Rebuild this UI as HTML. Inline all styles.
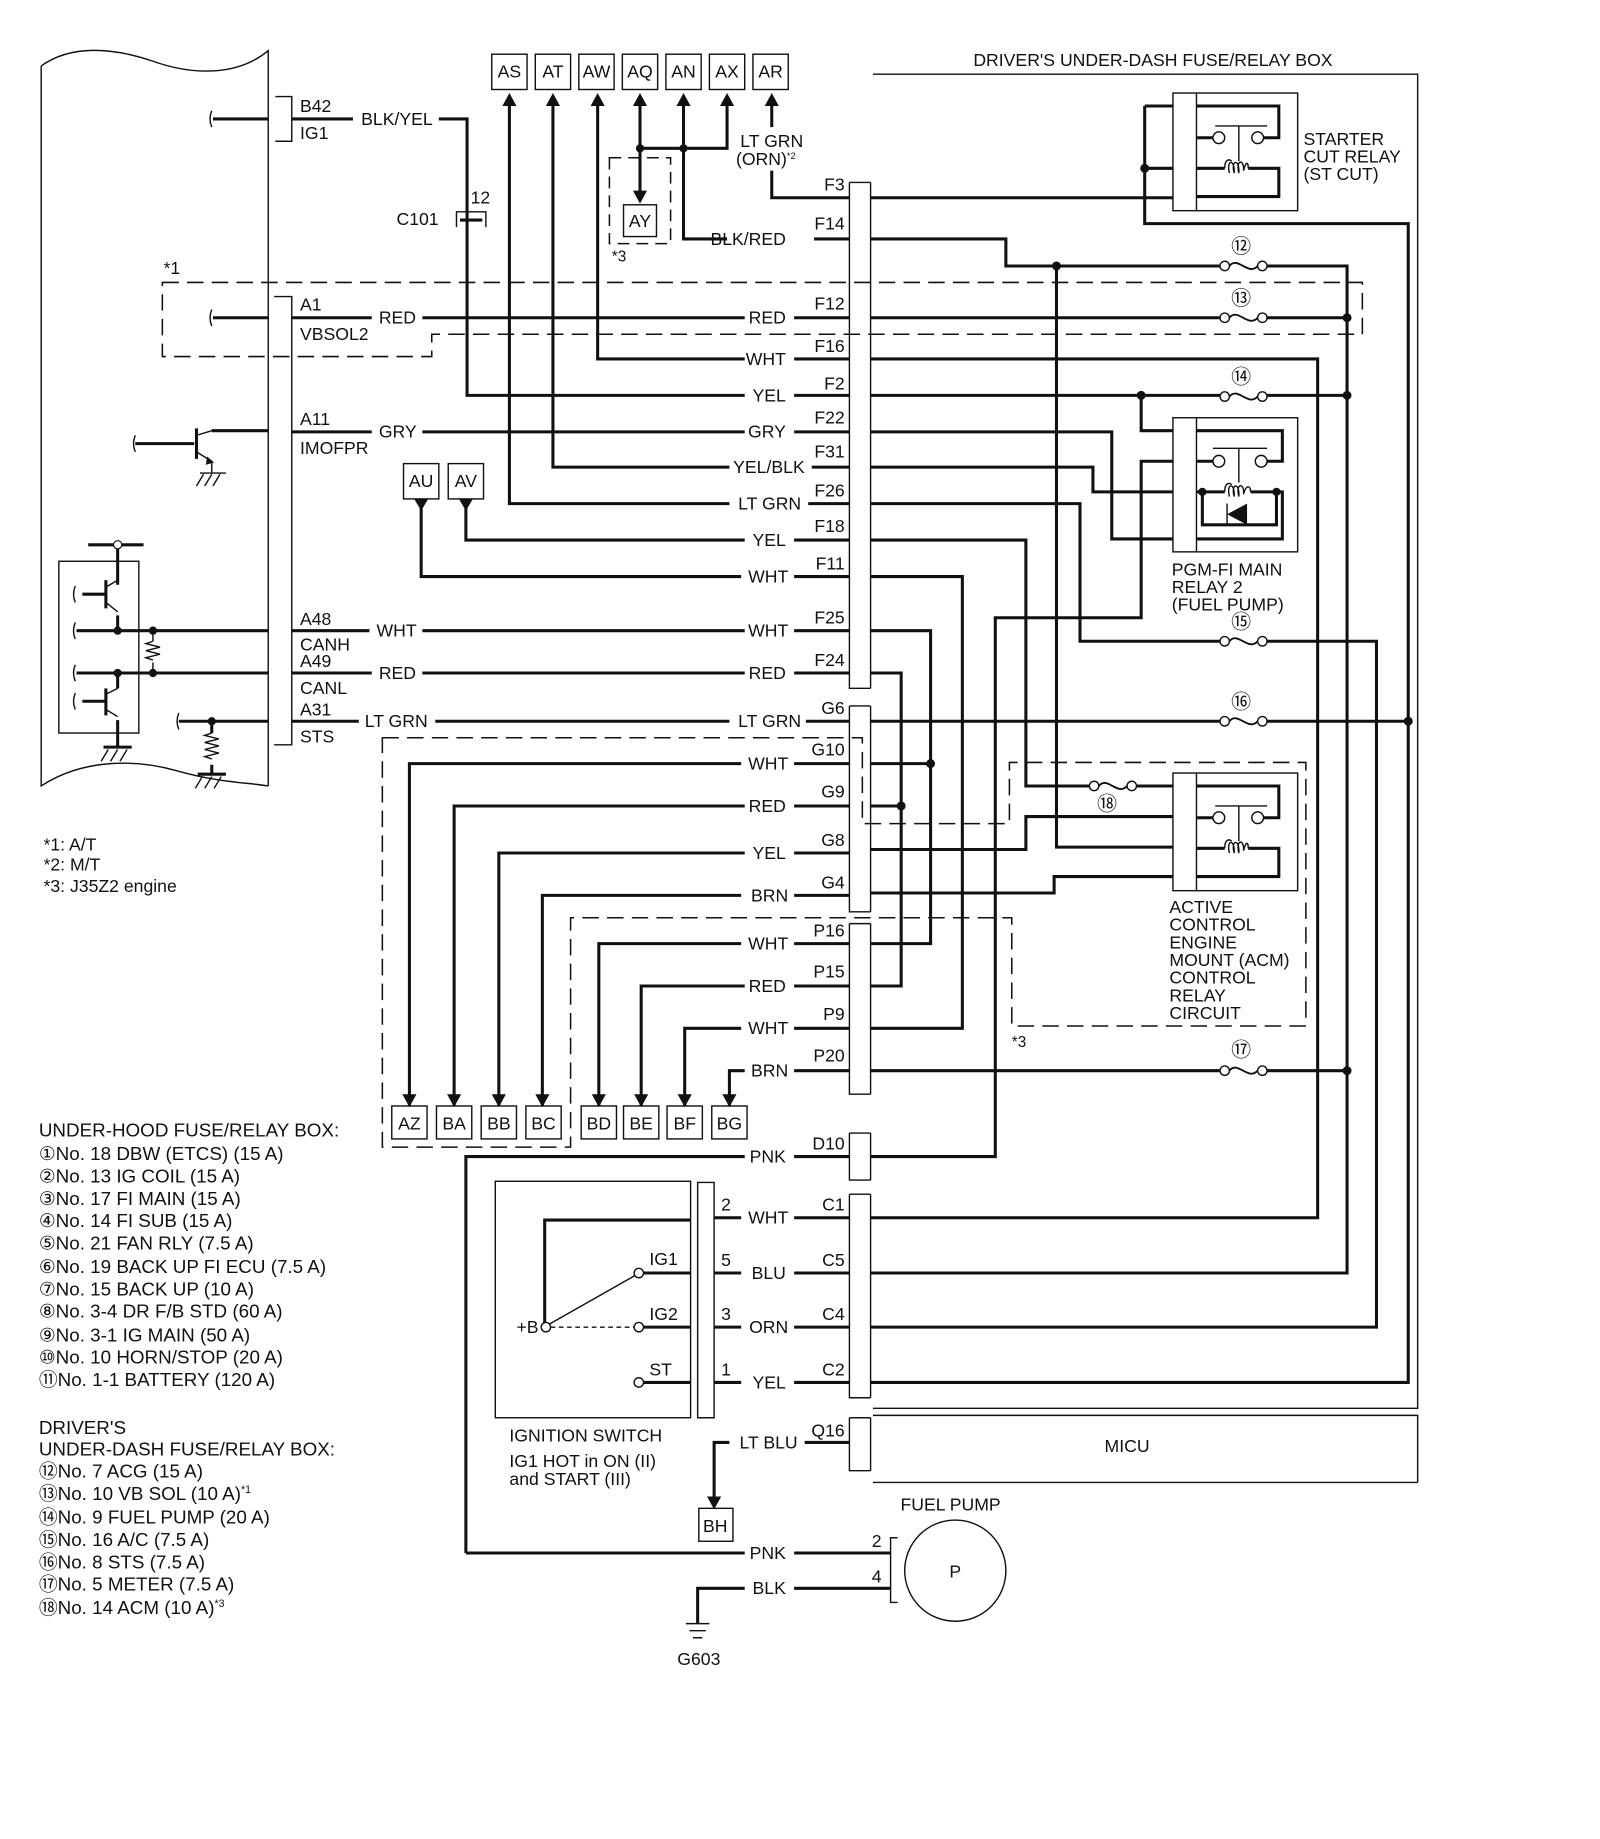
<!DOCTYPE html>
<html><head><meta charset="utf-8"><style>
html,body{margin:0;padding:0;background:#fff;}
svg{display:block;}
text{font-family:"Liberation Sans","DejaVu Sans","Noto Sans CJK JP",sans-serif;font-size:15px;fill:#111;}
.w{stroke:#111;stroke-width:2.6;fill:none;}
.t{stroke:#111;stroke-width:1.2;fill:none;}
.d{stroke:#111;stroke-width:1.3;fill:none;stroke-dasharray:14,7;}
.f{fill:#111;}
</style></head><body>
<svg width="1600" height="1839" viewBox="0 0 1360 1563" xmlns="http://www.w3.org/2000/svg">
<defs>
<g id="fuse"><circle cx="4" cy="0" r="4" class="t" fill="#fff"/><circle cx="36" cy="0" r="4" class="t" fill="#fff"/><path d="M8,0 C15,-9 24,9 32,0" class="t" style="stroke-width:1.6"/></g>
<g id="relay">
<rect x="0" y="0" width="106" height="100" class="t"/><line x1="20" y1="0" x2="20" y2="100" class="t"/>
<path d="M20,11 H90 V38 H77 M20,38 H34 M20,64 H44 M64,64 H90 V88 H20" class="w"/>
<circle cx="39" cy="38" r="5" class="t"/><circle cx="72" cy="38" r="5" class="t"/>
<path d="M36,28 H80 M56,28 V58" class="t"/>
<path d="M44,64 C44,56 48,56 50,58 M48,68 C45,56 53,56 52,68 M52,68 C49,56 57,56 56,68 M56,68 C53,56 61,56 60,66 C62,58 64,58 64,64" class="t"/>
</g>
</defs>

<!-- ECM outline -->
<path d="M35,56 C60,38 95,40 130,52 C170,66 205,62 228,43 V668" class="t"/>
<path d="M35,56 V668 C70,645 115,645 150,655 C185,665 210,665 228,668" class="t"/>
<path d="M234,82 H248 V120 H234" class="t"/>
<path d="M233,252 H248 V633 H233" class="t"/>
<text x="255" y="95">B42</text><text x="255" y="118">IG1</text>
<text x="255" y="264">A1</text><text x="255" y="289">VBSOL2</text>
<text x="255" y="361">A11</text><text x="255" y="386">IMOFPR</text>
<text x="255" y="531">A48</text><text x="255" y="553">CANH</text>
<text x="255" y="567">A49</text><text x="255" y="590">CANL</text>
<text x="255" y="608">A31</text><text x="255" y="631">STS</text>
<path d="M181,101 H228 M181,270 H228" class="w"/>
<path d="M180,94 q-3,7 0,14 M180,263 q-3,7 0,14 M115,370 q-3,7 0,14" class="t"/>
<path d="M115,377 H165 M167,364 V390 M180,366 H228" class="w"/>
<path d="M167,370 L180,366 M167,384 L180,392 V402 M170,402 H192 M173,403 l-6,10 M180,403 l-6,10 M187,403 l-6,10" class="t"/>
<path d="M176,388 l6,5 l-7,2 z" class="f"/>
<rect x="50" y="477" width="68" height="146" class="t"/>
<path d="M75,463 H122" class="w"/><circle cx="100" cy="463" r="3.5" fill="#fff" stroke="#111" stroke-width="1"/>
<path d="M100,466 V497 M70,505 H90 M90,493 V517 M100,523 V536 M65,536 H228 M65,572 H228 M100,572 V585 M70,596 H90 M90,585 V608 M100,612 V635 M88,635 H112 M152,613 H228 M180,613 V623 M180,650 V658 M168,658 H192" class="w"/>
<path d="M90,499 L100,493 M90,512 L100,520 M90,590 L100,585 M90,603 L100,609 M130,536 V545 M130,563 V572 M130,545 l-6,2 l12,3 l-12,3 l12,3 l-12,3 l6,2 M180,623 l-6,2 l12,3 l-12,3 l12,3 l-12,3 l12,3 l-12,3 l6,2" class="t"/>
<path d="M92,637 l-6,10 M100,637 l-6,10 M108,637 l-6,10 M172,660 l-6,10 M180,660 l-6,10 M188,660 l-6,10 M64,498 q-3,7 0,14 M64,529 q-3,7 0,14 M64,565 q-3,7 0,14 M64,589 q-3,7 0,14 M152,606 q-3,7 0,14" class="t"/>
<circle cx="100" cy="536" r="3.5" class="f"/><circle cx="130" cy="536" r="3.5" class="f"/><circle cx="100" cy="572" r="3.5" class="f"/><circle cx="130" cy="572" r="3.5" class="f"/><circle cx="180" cy="613" r="3.5" class="f"/>

<text x="37" y="723">*1:  A/T</text><text x="37" y="740">*2:  M/T</text><text x="37" y="758">*3:  J35Z2 engine</text>
<text x="33" y="966" style="font-size:16px">UNDER-HOOD FUSE/RELAY BOX:</text>
<text x="33" y="986" style="font-size:16px">①No. 18 DBW (ETCS) (15 A)</text>
<text x="33" y="1005" style="font-size:16px">②No. 13 IG COIL (15 A)</text>
<text x="33" y="1024" style="font-size:16px">③No. 17 FI MAIN (15 A)</text>
<text x="33" y="1043" style="font-size:16px">④No. 14 FI SUB (15 A)</text>
<text x="33" y="1062" style="font-size:16px">⑤No. 21 FAN RLY (7.5 A)</text>
<text x="33" y="1082" style="font-size:16px">⑥No. 19 BACK UP FI ECU (7.5 A)</text>
<text x="33" y="1101" style="font-size:16px">⑦No. 15 BACK UP (10 A)</text>
<text x="33" y="1120" style="font-size:16px">⑧No. 3-4 DR F/B STD (60 A)</text>
<text x="33" y="1140" style="font-size:16px">⑨No. 3-1 IG MAIN (50 A)</text>
<text x="33" y="1159" style="font-size:16px">⑩No. 10 HORN/STOP (20 A)</text>
<text x="33" y="1178" style="font-size:16px">⑪No. 1-1 BATTERY (120 A)</text>
<text x="33" y="1219" style="font-size:16px">DRIVER'S</text>
<text x="33" y="1237" style="font-size:16px">UNDER-DASH FUSE/RELAY BOX:</text>
<text x="33" y="1256" style="font-size:16px">⑫No. 7 ACG (15 A)</text>
<text x="33" y="1275" style="font-size:16px">⑬No. 10 VB SOL (10 A)<tspan dy="-6" style="font-size:9px">*1</tspan></text>
<text x="33" y="1295" style="font-size:16px">⑭No. 9 FUEL PUMP (20 A)</text>
<text x="33" y="1314" style="font-size:16px">⑮No. 16 A/C (7.5 A)</text>
<text x="33" y="1333" style="font-size:16px">⑯No. 8 STS (7.5 A)</text>
<text x="33" y="1352" style="font-size:16px">⑰No. 5 METER (7.5 A)</text>
<text x="33" y="1372" style="font-size:16px">⑱No. 14 ACM (10 A)<tspan dy="-6" style="font-size:9px">*3</tspan></text>

<g class="t">
<rect x="418" y="46" width="30" height="30"/><rect x="455" y="46" width="30" height="30"/><rect x="492" y="46" width="30" height="30"/><rect x="529" y="46" width="30" height="30"/><rect x="566" y="46" width="30" height="30"/><rect x="603" y="46" width="30" height="30"/><rect x="640" y="46" width="30" height="30"/>
<rect x="530" y="174" width="28" height="27"/>
</g>
<text x="433" y="66" text-anchor="middle">AS</text><text x="470" y="66" text-anchor="middle">AT</text><text x="507" y="66" text-anchor="middle">AW</text><text x="544" y="66" text-anchor="middle">AQ</text><text x="581" y="66" text-anchor="middle">AN</text><text x="618" y="66" text-anchor="middle">AX</text><text x="655" y="66" text-anchor="middle">AR</text>
<text x="544" y="193" text-anchor="middle">AY</text>
<path d="M518,134 H570 V207 H518 Z" class="d" style="stroke-dasharray:10,6"/>
<text x="520" y="222" style="font-size:13px">*3</text>
<g class="f">
<path d="M427,90 l6,-11 l6,11z M464,90 l6,-11 l6,11z M502,90 l6,-11 l6,11z M538,90 l6,-11 l6,11z M575,90 l6,-11 l6,11z M612,90 l6,-11 l6,11z M650,90 l6,-11 l6,11z"/>
<path d="M538,162 l6,11 l6,-11z"/>
<circle cx="544" cy="126" r="3.5"/><circle cx="581" cy="126" r="3.5"/>
</g>
<path d="M433,88 V428 H620 M470,88 V397 H620 M508,88 V305 H633 M544,88 V164 M544,126 H618 V88 M581,88 V203 H618 M656,88 V108 M656,145 V168 H722" class="w"/>
<text x="656" y="125" text-anchor="middle">LT GRN</text><text x="651" y="140" text-anchor="middle">(ORN)<tspan dy="-5" style="font-size:8px">*2</tspan></text>

<path d="M248,101 H300 M373,101 H397 V336 H633" class="w"/>
<text x="307" y="106">BLK/YEL</text>
<path d="M388,193 V180 H413 V193" class="t"/><path d="M391,187 H410" class="w"/>
<text x="400" y="173">12</text><text x="337" y="191">C101</text>

<path d="M138,240 H1158 V284 H367 V303 H138 Z" class="d"/>
<text x="139" y="233">*1</text>

<path class="w" d="
M248,270 H316 M359,270 H633 M675,270 H722
M248,367 H316 M359,367 H633 M675,367 H722
M248,536 H314 M359,536 H633 M675,536 H722
M248,572 H316 M359,572 H633 M675,572 H722
M248,613 H305 M370,613 H620 M685,613 H722
M692,203 H722 M675,305 H722 M675,336 H722 M690,397 H722 M687,428 H722
M396,424 V459 H633 M675,459 H722
M358,424 V490 H630 M675,490 H722
M348,940 V649 H630 M675,649 H722
M386,940 V685 H633 M675,685 H722
M424,940 V725 H633 M675,725 H722
M461,940 V761 H630 M675,761 H722
M509,940 V802 H630 M675,802 H722
M545,940 V838 H633 M675,838 H722
M582,940 V874 H630 M675,874 H722
M620,940 V910 H633 M675,910 H722
M396,1320 V983 H633 M675,983 H722
M675,1035 H722 M675,1082 H722 M675,1128 H722 M675,1175 H722
M607,1035 H630 M607,1082 H630 M607,1128 H630 M607,1175 H630
M607,1274 V1226 H620 M684,1226 H722
M396,1320 H633 M675,1320 H757 M593,1380 V1350 H633 M675,1350 H757
"/>
<g class="f">
<path d="M352,424 l6,10 l6,-10z M390,424 l6,10 l6,-10z"/>
<path d="M342,930 l6,11 l6,-11z M380,930 l6,11 l6,-11z M418,930 l6,11 l6,-11z M455,930 l6,11 l6,-11z M503,930 l6,11 l6,-11z M539,930 l6,11 l6,-11z M576,930 l6,11 l6,-11z M614,930 l6,11 l6,-11z M601,1272 l6,11 l6,-11z"/>
</g>
<g class="t">
<rect x="343" y="394" width="30" height="30" fill="#fff"/><rect x="381" y="394" width="30" height="30" fill="#fff"/>
<rect x="333" y="940" width="30" height="28"/><rect x="371" y="940" width="30" height="28"/><rect x="409" y="940" width="30" height="28"/><rect x="447" y="940" width="30" height="28"/>
<rect x="494" y="940" width="30" height="28"/><rect x="530" y="940" width="30" height="28"/><rect x="567" y="940" width="30" height="28"/><rect x="605" y="940" width="30" height="28"/>
<rect x="594" y="1282" width="29" height="28"/>
</g>
<text x="358" y="414" text-anchor="middle">AU</text><text x="396" y="414" text-anchor="middle">AV</text>
<text x="348" y="960" text-anchor="middle">AZ</text><text x="386" y="960" text-anchor="middle">BA</text><text x="424" y="960" text-anchor="middle">BB</text><text x="462" y="960" text-anchor="middle">BC</text>
<text x="509" y="960" text-anchor="middle">BD</text><text x="545" y="960" text-anchor="middle">BE</text><text x="582" y="960" text-anchor="middle">BF</text><text x="620" y="960" text-anchor="middle">BG</text>
<text x="608" y="1302" text-anchor="middle">BH</text>

<g>
<text x="322" y="275">RED</text><text x="322" y="372">GRY</text><text x="320" y="541">WHT</text><text x="322" y="577">RED</text><text x="310" y="618">LT GRN</text>
<text x="668" y="208" text-anchor="end">BLK/RED</text>
<text x="668" y="275" text-anchor="end">RED</text><text x="668" y="310" text-anchor="end">WHT</text><text x="668" y="341" text-anchor="end">YEL</text>
<text x="668" y="372" text-anchor="end">GRY</text><text x="684" y="402" text-anchor="end">YEL/BLK</text><text x="681" y="433" text-anchor="end">LT GRN</text>
<text x="668" y="464" text-anchor="end">YEL</text><text x="670" y="495" text-anchor="end">WHT</text><text x="670" y="541" text-anchor="end">WHT</text>
<text x="668" y="577" text-anchor="end">RED</text><text x="681" y="618" text-anchor="end">LT GRN</text>
<text x="670" y="654" text-anchor="end">WHT</text><text x="668" y="690" text-anchor="end">RED</text><text x="668" y="730" text-anchor="end">YEL</text><text x="670" y="766" text-anchor="end">BRN</text>
<text x="670" y="807" text-anchor="end">WHT</text><text x="668" y="843" text-anchor="end">RED</text><text x="670" y="879" text-anchor="end">WHT</text><text x="670" y="915" text-anchor="end">BRN</text>
<text x="668" y="988" text-anchor="end">PNK</text>
<text x="670" y="1040" text-anchor="end">WHT</text><text x="668" y="1087" text-anchor="end">BLU</text><text x="670" y="1133" text-anchor="end">ORN</text><text x="668" y="1180" text-anchor="end">YEL</text>
<text x="678" y="1231" text-anchor="end">LT BLU</text>
<text x="668" y="1325" text-anchor="end">PNK</text><text x="668" y="1355" text-anchor="end">BLK</text>
</g>
<g text-anchor="end">
<text x="718" y="162">F3</text><text x="718" y="195">F14</text><text x="718" y="263">F12</text><text x="718" y="299">F16</text><text x="718" y="331">F2</text>
<text x="718" y="360">F22</text><text x="718" y="389">F31</text><text x="718" y="422">F26</text><text x="718" y="452">F18</text><text x="718" y="484">F11</text>
<text x="718" y="530">F25</text><text x="718" y="566">F24</text><text x="718" y="607">G6</text><text x="718" y="642">G10</text><text x="718" y="678">G9</text>
<text x="718" y="719">G8</text><text x="718" y="755">G4</text><text x="718" y="796">P16</text><text x="718" y="831">P15</text><text x="718" y="867">P9</text>
<text x="718" y="902">P20</text><text x="718" y="977">D10</text><text x="718" y="1029">C1</text><text x="718" y="1076">C5</text><text x="718" y="1122">C4</text>
<text x="718" y="1169">C2</text><text x="718" y="1221">Q16</text>
</g>
<g class="t">
<path d="M722,155 H740 M722,155 V585 H740 M740,155 V585"/>
<path d="M722,600 H740 M722,600 V775 H740 M740,600 V775"/>
<path d="M722,785 H740 M722,785 V930 H740 M740,785 V930"/>
<path d="M722,963 H740 M722,963 V1003 H740 M740,963 V1003"/>
<path d="M722,1015 H740 M722,1015 V1188 H740 M740,1015 V1188"/>
<path d="M722,1205 H740 M722,1205 V1250 H740 M740,1205 V1250"/>
</g>

<path d="M325,627 H733 V700 H858 V648 H1110 V872 H860 V780 H485 V975 H325 Z" class="d"/>
<text x="860" y="890" style="font-size:13px">*3</text>

<path d="M742,63 H1205 V1197 H742 M742,1203 H1205 V1260 M742,1260 H1205" class="t"/>
<text x="980" y="56" text-anchor="middle">DRIVER'S UNDER-DASH FUSE/RELAY BOX</text>
<text x="958" y="1234" text-anchor="middle">MICU</text>

<!-- relays -->
<use href="#relay" x="997" y="79"/>
<use href="#relay" x="997" y="657"/>
<!-- PGM-FI relay -->
<rect x="997" y="355" width="106" height="114" class="t"/><line x1="1017" y1="355" x2="1017" y2="469" class="t"/>
<path d="M1017,366 H1090 V392 H1077 M1017,392 H1031 M1017,418 H1041 M1063,418 H1090 V458 H1017" class="w"/>
<circle cx="1036" cy="392" r="5" class="t"/><circle cx="1072" cy="392" r="5" class="t"/>
<path d="M1031,381 H1077 M1053,381 V410" class="t"/>
<path d="M1041,418 C1041,410 1045,410 1047,412 M1045,422 C1042,410 1050,410 1049,422 M1049,422 C1046,410 1054,410 1053,422 M1053,422 C1050,410 1058,410 1057,420 C1059,412 1063,412 1063,418" class="t"/>
<path d="M1022,418 V446 H1085 V418" class="w"/>
<path d="M1043,437 L1060,428 V446 Z" class="f"/><path d="M1043,428 V447" class="t"/>
<circle cx="1022" cy="418" r="3.5" class="f"/><circle cx="1085" cy="418" r="3.5" class="f"/>
<text x="1108" y="123">STARTER</text><text x="1108" y="138">CUT RELAY</text><text x="1108" y="153">(ST CUT)</text>
<text x="996" y="489">PGM-FI MAIN</text><text x="996" y="504">RELAY 2</text><text x="996" y="519">(FUEL PUMP)</text>
<text x="994" y="776">ACTIVE</text><text x="994" y="791">CONTROL</text><text x="994" y="806">ENGINE</text><text x="994" y="821">MOUNT (ACM)</text><text x="994" y="836">CONTROL</text><text x="994" y="851">RELAY</text><text x="994" y="866">CIRCUIT</text>

<use href="#fuse" x="1037" y="226"/><use href="#fuse" x="1037" y="270"/><use href="#fuse" x="1037" y="337"/><use href="#fuse" x="1037" y="545"/><use href="#fuse" x="1037" y="613"/><use href="#fuse" x="1037" y="910"/><use href="#fuse" x="926" y="668"/>
<g text-anchor="middle">
<text x="1055" y="215" style="font-size:17px">⑫</text><text x="1055" y="259" style="font-size:17px">⑬</text><text x="1055" y="326" style="font-size:17px">⑭</text><text x="1055" y="534" style="font-size:17px">⑮</text><text x="1055" y="602" style="font-size:17px">⑯</text><text x="1055" y="898" style="font-size:17px">⑰</text><text x="941" y="689" style="font-size:17px">⑱</text>
</g>

<path class="w" d="
M740,168 H997
M973,90 V190 H1197 V1175 H740 M973,90 H997 M973,143 H997
M740,203 H855 V226 H1037 M1077,226 H1145 V1082 H740
M740,270 H1037 M1077,270 H1145
M740,336 H1037 M1077,336 H1145
M970,336 V366 H997
M740,305 H1120 V1035 H740
M740,367 H945 V458 H997
M740,397 H929 V418 H997
M740,428 H918 V545 H1037 M1077,545 H1170 V1128 H740
M740,459 H872 V668 H926 M966,668 H997
M740,490 H818 V874 H740
M997,392 H970 V525 H846 V983 H740
M740,536 H791 V802 H740
M740,572 H766 V838 H740
M740,613 H1037 M1077,613 H1197
M740,649 H791 M740,685 H766
M740,722 H872 V694 H997
M740,759 H896 V745 H997
M898,226 V720 H997
M740,910 H1037 M1077,910 H1145
"/>
<g class="f">
<circle cx="973" cy="143" r="3.8"/><circle cx="898" cy="226" r="3.8"/><circle cx="1145" cy="270" r="3.8"/><circle cx="970" cy="336" r="3.8"/><circle cx="1145" cy="336" r="3.8"/><circle cx="1197" cy="613" r="3.8"/><circle cx="791" cy="649" r="3.8"/><circle cx="766" cy="685" r="3.8"/><circle cx="1145" cy="910" r="3.8"/>
</g>

<rect x="421" y="1004" width="166" height="201" class="t"/>
<path d="M593,1005 H607 V1205 H593 Z" class="t"/>
<path d="M463,1124 V1037 H587 M547,1082 H587 M547,1128 H587 M547,1175 H587" class="w"/>
<path d="M466,1126 L540,1084" class="t"/><path d="M468,1128 L539,1128" class="t" style="stroke-dasharray:4,3"/>
<circle cx="464" cy="1128" r="4" fill="#fff" stroke="#111" stroke-width="1.2"/><circle cx="543" cy="1082" r="4" fill="#fff" stroke="#111" stroke-width="1.2"/><circle cx="543" cy="1128" r="4" fill="#fff" stroke="#111" stroke-width="1.2"/><circle cx="543" cy="1175" r="4" fill="#fff" stroke="#111" stroke-width="1.2"/>
<text x="439" y="1133">+B</text><text x="552" y="1075">IG1</text><text x="552" y="1122">IG2</text><text x="552" y="1169">ST</text>
<text x="613" y="1029">2</text><text x="613" y="1076">5</text><text x="613" y="1122">3</text><text x="613" y="1169">1</text>
<text x="433" y="1225">IGNITION SWITCH</text><text x="433" y="1247">IG1 HOT in ON (II)</text><text x="433" y="1262">and START (III)</text>

<path d="M763,1307 H757 V1362 H763" class="t"/>
<circle cx="812" cy="1335" r="43" class="t"/>
<text x="812" y="1341" text-anchor="middle">P</text>
<text x="808" y="1284" text-anchor="middle">FUEL PUMP</text>
<text x="741" y="1315">2</text><text x="741" y="1345">4</text>
<path d="M583,1380 H603 M586,1386 H600 M589,1392 H597" class="t"/>
<text x="594" y="1415" text-anchor="middle">G603</text>
</svg>
</body></html>
